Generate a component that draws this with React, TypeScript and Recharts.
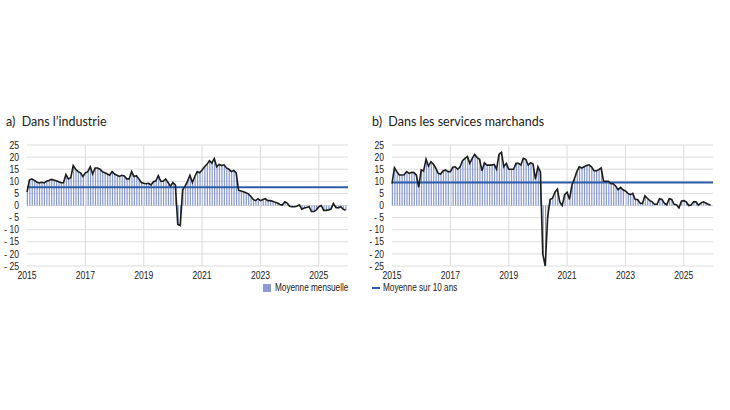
import React from "react";
import {
  ComposedChart,
  Bar,
  Line,
  XAxis,
  YAxis,
  CartesianGrid,
  ReferenceLine,
} from "recharts";

// monthly balances, Jan 2015 -> Dec 2025
const industrie = [
  5.5, 10.5, 11.0, 10.4, 9.7, 9.3, 9.6, 9.3, 10.0, 10.3, 10.8, 10.5,
  10.2, 9.8, 9.4, 9.4, 12.8, 11.0, 11.5, 16.5, 15.0, 14.0, 13.5, 12.0,
  13.5, 14.0, 16.0, 13.0, 15.5, 15.5, 15.0, 14.0, 13.5, 13.0, 12.5, 14.0,
  13.0, 12.5, 12.0, 12.5, 12.2, 11.0, 11.0, 14.0, 12.0, 12.3, 11.0, 9.5,
  9.2, 9.0, 9.2, 8.5, 9.8, 10.2, 12.3, 10.0, 10.0, 11.0, 9.5, 8.0,
  9.5, 8.5, -7.8, -8.3, 6.5, 8.0, 10.0, 12.5, 9.5, 12.0, 14.0, 13.5,
  14.7, 16.0, 17.0, 18.5, 17.5, 19.4, 16.0, 17.0, 16.5, 16.8, 15.5, 15.0,
  14.0, 14.5, 13.5, 6.3, 6.0, 5.7, 5.3, 4.8, 3.8, 2.5, 2.0, 2.8,
  2.0, 2.5, 2.8, 2.0, 2.0, 1.8, 1.3, 1.0, 0.4, 0.2, 1.5, 1.0,
  -0.3, -0.5, -0.5, -0.3, 0.3, -1.5, -1.0, -0.8, -0.5, -2.5, -2.5, -1.8,
  -0.5, 0.0, -2.0, -2.0, -1.8, -1.5, 0.8, -0.8, -1.0, -0.5, -1.5, -2.0,
];

const services = [
  9.0, 15.6, 14.0, 12.6, 12.6, 12.7, 14.0, 13.3, 13.7, 13.6, 12.6, 7.5,
  14.7, 14.3, 19.1, 16.3, 18.1, 17.1, 15.4, 13.3, 13.0, 14.3, 14.7, 14.0,
  14.0, 15.8, 16.0, 15.0, 16.0, 18.5, 19.5, 20.2, 17.4, 19.5, 21.1, 19.8,
  19.1, 14.3, 17.7, 16.7, 16.7, 16.7, 17.0, 15.0, 21.1, 22.0, 16.0, 17.4,
  15.0, 15.0, 15.0, 17.4, 17.4, 16.7, 19.5, 19.1, 16.7, 17.7, 17.1, 10.8,
  16.0, 14.0, -20.0, -25.0, -5.0, 2.5, 3.0, 5.5, 6.8, 1.5, 0.0, 4.5,
  5.5, 2.5, 8.5, 11.0, 14.0, 16.0, 15.5, 16.0, 16.5, 16.8, 16.0, 14.5,
  14.3, 14.8, 15.5, 10.0, 10.0, 10.0, 9.0, 9.0, 8.0, 6.5, 7.5, 6.5,
  6.0, 5.0, 4.5, 5.0, 2.5, 2.5, 1.0, 0.8, 4.0, 3.0, 2.0, 1.5,
  0.5, 0.5, 2.8, 2.5, 1.0, 0.3, 2.8, 2.5, 0.5, 0.3, -1.0, 1.8,
  2.0, 1.5, 0.0, 0.2, 1.5, 1.5, 0.2, 1.0, 1.5, 1.0, 0.5, 0.2,
];

const industrieAverage = 7.5;
const servicesAverage = 9.5;

const startYear = 2015;
const xTicks = [2015, 2017, 2019, 2021, 2023, 2025];
const xGrid = [2017, 2019, 2021, 2023, 2025];
const yTicks = [25, 20, 15, 10, 5, 0, -5, -10, -15, -20, -25];

const toRows = (values: number[]) =>
  values.map((v, i) => ({ t: startYear + i / 12, value: v }));

// no Arial Narrow here: Liberation Sans squeezed horizontally
const narrowFont = "'Liberation Sans', Arial, sans-serif";
const squeeze = 0.82;
const titleFont = "Lato, 'Noto Sans', sans-serif";
const gridColor = "#dcdcdc";
const barColor = "#8797d6";
const avgColor = "#2c5da9";
const textColor = "#222";

const fmtY = (v: number) => (v < 0 ? `- ${-v}` : `${v}`);

const XTick = ({ x, y, payload }: any) => (
  <text
    transform={`translate(${x},${y + 13}) scale(${squeeze} 1)`}
    textAnchor="middle"
    fontSize={10.5}
    fill={textColor}
    fontFamily={narrowFont}
  >
    {payload.value}
  </text>
);

const YTick = ({ x, y, payload }: any) => (
  <text
    transform={`translate(${x},${y + 3.6}) scale(${squeeze} 1)`}
    textAnchor="end"
    fontSize={10.5}
    fill={textColor}
    fontFamily={narrowFont}
  >
    {fmtY(payload.value)}
  </text>
);

function Panel({ values, average }: { values: number[]; average: number }) {
  const data = toRows(values);
  return (
    <ComposedChart
      width={362}
      height={150}
      data={data}
      margin={{ top: 10, right: 14, left: 5, bottom: 0 }}
    >
      <CartesianGrid vertical={false} stroke={gridColor} />
      {xGrid.map((x) => (
        <ReferenceLine key={x} x={x} stroke={gridColor} />
      ))}
      <XAxis
        dataKey="t"
        type="number"
        domain={[2015, 2026]}
        ticks={xTicks}
        interval={0}
        axisLine={false}
        tickLine={false}
        tickSize={0}
        tickMargin={0}
        height={19}
        tick={<XTick />}
      />
      <YAxis
        domain={[-25, 25]}
        ticks={yTicks}
        interval={0}
        axisLine={false}
        tickLine={false}
        tickSize={6}
        tickMargin={2}
        width={22}
        tick={<YTick />}
      />
      <Bar dataKey="value" fill={barColor} barSize={1.2} isAnimationActive={false} />
      <ReferenceLine y={average} stroke={avgColor} strokeWidth={2} />
      <Line
        type="linear"
        dataKey="value"
        stroke="#1d1d1b"
        strokeWidth={1.6}
        dot={false}
        isAnimationActive={false}
      />
    </ComposedChart>
  );
}

const legendText: React.CSSProperties = {
  display: "inline-block",
  fontFamily: narrowFont,
  fontSize: 10,
  color: textColor,
  transform: `scaleX(${squeeze})`,
  transformOrigin: "left center",
  whiteSpace: "nowrap",
};

export default function App() {
  return (
    <div style={{ position: "absolute", left: 0, top: 0, width: 730, height: 410, background: "#fff" }}>
      <div style={{ position: "absolute", left: 6, top: 114, fontFamily: titleFont, fontSize: 12.5, color: "#222" }}>
        a)&nbsp;&nbsp;Dans l’industrie
      </div>
      <div style={{ position: "absolute", left: 372, top: 114, fontFamily: titleFont, fontSize: 12.5, color: "#222" }}>
        b)&nbsp;&nbsp;Dans les services marchands
      </div>
      <div style={{ position: "absolute", left: 0, top: 135 }}>
        <Panel values={industrie} average={industrieAverage} />
      </div>
      <div style={{ position: "absolute", left: 365, top: 135 }}>
        <Panel values={services} average={servicesAverage} />
      </div>
      <div style={{ position: "absolute", left: 263, top: 282, display: "flex", alignItems: "center" }}>
        <span style={{ width: 8, height: 8, background: "#8a9ad3", marginRight: 4 }} />
        <span style={legendText}>Moyenne mensuelle</span>
      </div>
      <div style={{ position: "absolute", left: 372, top: 282, display: "flex", alignItems: "center" }}>
        <span style={{ width: 8, height: 2, background: avgColor, marginRight: 3 }} />
        <span style={legendText}>Moyenne sur 10 ans</span>
      </div>
    </div>
  );
}
